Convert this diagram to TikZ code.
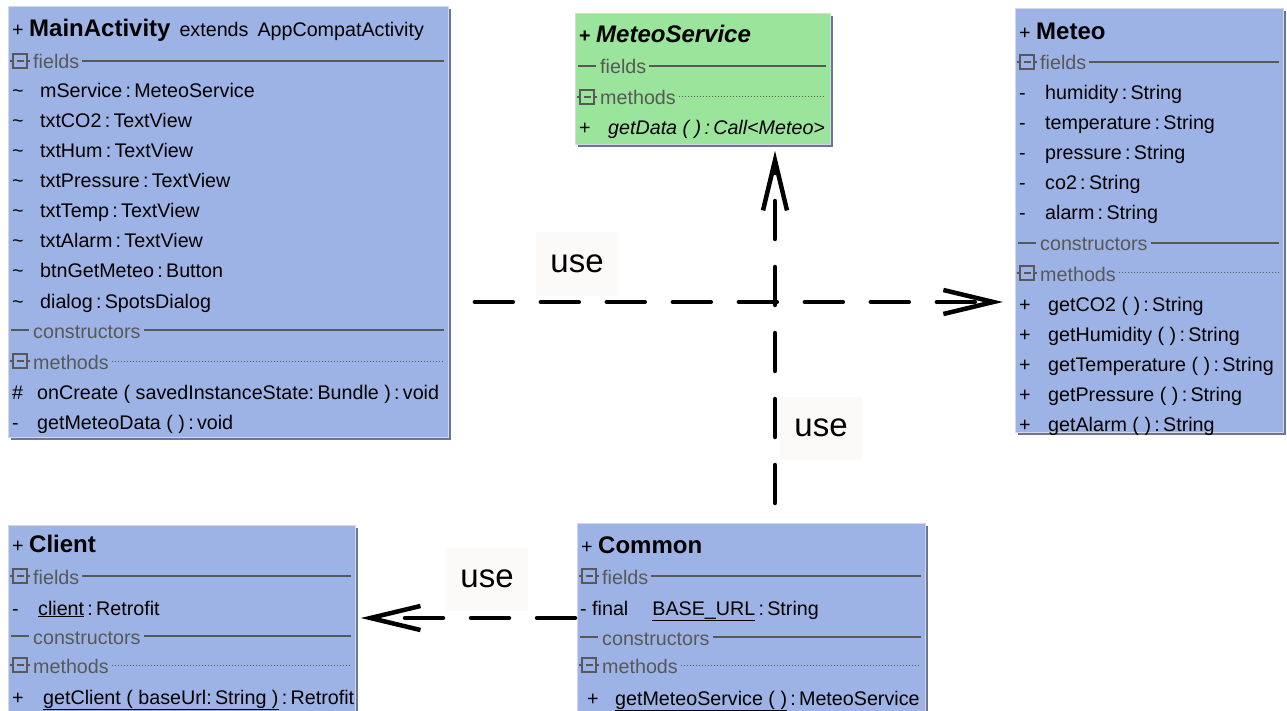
\documentclass[tikz,border=0pt]{standalone}
\usepackage{fontspec}
\setmainfont{Liberation Sans}
\usetikzlibrary{arrows.meta,shadows}

\definecolor{classblue}{RGB}{157,179,229}
\definecolor{ifacegreen}{RGB}{155,228,155}
\definecolor{edgegray}{RGB}{210,215,226}
\definecolor{shadegray}{RGB}{105,118,148}
\definecolor{hdrgray}{RGB}{88,88,88}
\definecolor{labelbg}{RGB}{252,249,249}

\tikzset{
  classbox/.style={draw=edgegray, line width=0.8pt, anchor=north west, inner sep=0pt,
    drop shadow={shadow xshift=2.5pt, shadow yshift=-2.5pt, fill=shadegray, opacity=1}},
  member/.style={anchor=west, inner sep=0pt, text height=17pt, text depth=1pt,
    font=\fontsize{19.7}{22}\selectfont},
  titletext/.style={anchor=west, inner sep=0pt, text height=18pt, text depth=1pt,
    font=\fontsize{19.7}{22}\selectfont},
  hdrtext/.style={anchor=west, inner sep=3pt, text height=17pt, text depth=1pt, text=hdrgray,
    font=\fontsize{19.7}{22}\selectfont},
  hdrline/.style={draw=hdrgray, line width=1.3pt, shorten >=5pt},
  hdrdots/.style={draw=hdrgray, line width=1pt, dotted, shorten >=5pt},
  wgt/.style={draw=hdrgray, line width=1.6pt},
  usedep/.style={line width=4.5pt, line cap=round, dash pattern=on 38pt off 28pt,
    -{Straight Barb[length=50pt,width=24pt]}},
  uselabel/.style={fill=labelbg, minimum width=82pt, minimum height=63pt,
    font=\fontsize{33}{36}\selectfont}
}

% section header: node name, class box, x, y, text, line style
\newcommand{\hdr}[6]{%
  \node[hdrtext] (#1) at (#3+22,#4) {#5};
  \draw[#6] (#1.east) -- (#2.east |- #1.east);
}
% open section widget
\newcommand{\minusbox}[2]{%
  \draw[wgt] (#1+5,#2-7) rectangle (#1+19,#2+7);
  \draw[wgt] (#1+8.5,#2) -- (#1+15.5,#2);
  \draw[wgt] (#1+2,#2) -- (#1+5,#2) (#1+19,#2) -- (#1+22,#2);
}
% empty section mark
\newcommand{\emptymark}[2]{\draw[wgt] (#1+3,#2) -- (#1+21,#2);}

\begin{document}
\begin{tikzpicture}[x=1pt,y=-1pt]
\useasboundingbox (0,0) rectangle (1287,711);
\clip (0,0) rectangle (1287,711);

% MainActivity
\node[classbox, fill=classblue, minimum width=440pt, minimum height=431pt] (main) at (8,6) {};
\node[titletext] (main-t) at (12,28) {+ {\fontsize{24}{26}\selectfont\bfseries MainActivity}\hspace{9pt}extends\hspace{9pt}AppCompatActivity};
\minusbox{8}{61}
\hdr{main-f}{main}{8}{61}{fields}{hdrline}
\foreach \t [count=\i] in {mService\,:\,MeteoService, txtCO2\,:\,TextView, txtHum\,:\,TextView,
    txtPressure\,:\,TextView, txtTemp\,:\,TextView, txtAlarm\,:\,TextView,
    btnGetMeteo\,:\,Button, dialog\,:\,SpotsDialog}
  \node[member] (main-f\i) at (12,60+30*\i) {\makebox[28pt][l]{\textasciitilde}\t};
\emptymark{8}{330}
\hdr{main-c}{main}{8}{330}{constructors}{hdrline}
\minusbox{8}{361}
\hdr{main-m}{main}{8}{361}{methods}{hdrdots}
\node[member] (main-m1) at (12,391) {\makebox[25pt][l]{\#}onCreate ( savedInstanceState:\,Bundle )\,:\,void};
\node[member] (main-m2) at (12,421) {\makebox[25pt][l]{-}getMeteoData ( )\,:\,void};

% MeteoService
\node[classbox, fill=ifacegreen, minimum width=255pt, minimum height=131pt] (service) at (575,13) {};
\node[titletext] (service-t) at (579,34) {\bfseries + {\fontsize{24}{26}\selectfont\itshape MeteoService}};
\emptymark{575}{66}
\hdr{service-f}{service}{575}{66}{fields}{hdrline}
\minusbox{575}{97}
\hdr{service-m}{service}{575}{97}{methods}{hdrdots}
\node[member] (service-m1) at (579,127) {\makebox[29pt][l]{+}\itshape getData ( )\,:\,Call<Meteo>};

% Meteo
\node[classbox, fill=classblue, minimum width=268pt, minimum height=424pt] (meteo) at (1015,8) {};
\node[titletext] (meteo-t) at (1019,31) {+ {\fontsize{24}{26}\selectfont\bfseries Meteo}};
\minusbox{1015}{62}
\hdr{meteo-f}{meteo}{1015}{62}{fields}{hdrline}
\foreach \t [count=\i] in {humidity\,:\,String, temperature\,:\,String, pressure\,:\,String,
    co2\,:\,String, alarm\,:\,String}
  \node[member] (meteo-f\i) at (1019,62+30*\i) {\makebox[26pt][l]{-}\t};
\emptymark{1015}{243}
\hdr{meteo-c}{meteo}{1015}{243}{constructors}{hdrline}
\minusbox{1015}{273}
\hdr{meteo-m}{meteo}{1015}{273}{methods}{hdrdots}
\foreach \t [count=\i] in {getCO2 ( )\,:\,String, getHumidity ( )\,:\,String,
    getTemperature ( )\,:\,String, getPressure ( )\,:\,String, getAlarm ( )\,:\,String}
  \node[member] (meteo-m\i) at (1019,273+30*\i) {\makebox[29pt][l]{+}\t};

% Client
\node[classbox, fill=classblue, minimum width=347pt, minimum height=195pt] (client) at (8,525) {};
\node[titletext] (client-t) at (12,544) {+ {\fontsize{24}{26}\selectfont\bfseries Client}};
\minusbox{8}{576}
\hdr{client-f}{client}{8}{576}{fields}{hdrline}
\node[member] (client-f1) at (12,607) {\makebox[26pt][l]{-}\underline{client}\,:\,Retrofit};
\emptymark{8}{636}
\hdr{client-c}{client}{8}{636}{constructors}{hdrline}
\minusbox{8}{665}
\hdr{client-m}{client}{8}{665}{methods}{hdrdots}
\node[member] (client-m1) at (12,696) {\makebox[31pt][l]{+}\underline{getClient ( baseUrl:\,String )}\,:\,Retrofit};

% Common
\node[classbox, fill=classblue, minimum width=348pt, minimum height=197pt] (common) at (577,523) {};
\node[titletext] (common-t) at (581,545) {+ {\fontsize{24}{26}\selectfont\bfseries Common}};
\minusbox{577}{576}
\hdr{common-f}{common}{577}{576}{fields}{hdrline}
\node[member] (common-f1) at (580,607) {- final\hspace{24pt}\underline{BASE\_URL}\,:\,String};
\emptymark{577}{637}
\hdr{common-c}{common}{577}{637}{constructors}{hdrline}
\minusbox{577}{665}
\hdr{common-m}{common}{577}{665}{methods}{hdrdots}
\node[member] (common-m1) at (587,697) {\makebox[28pt][l]{+}\underline{getMeteoService ( )}\,:\,MeteoService};

% dependencies
\coordinate (hl) at (0,302);
\coordinate (vl) at (775,0);
\coordinate (bl) at (0,618);
\node[uselabel] (use-h) at (577,264) {use};
\node[uselabel] (use-v) at (821,428) {use};
\node[uselabel] (use-b) at (487,579) {use};
\draw[usedep, shorten <=26pt, shorten >=12pt] (main.east |- hl) -- (meteo.west |- hl);
\draw[usedep, shorten <=20pt, shorten >=6pt] (common.north -| vl) -- (service.south -| vl);
\draw[usedep, shorten <=2pt, shorten >=5pt] (common.west |- bl) -- (client.east |- bl);
\end{tikzpicture}
\end{document}
